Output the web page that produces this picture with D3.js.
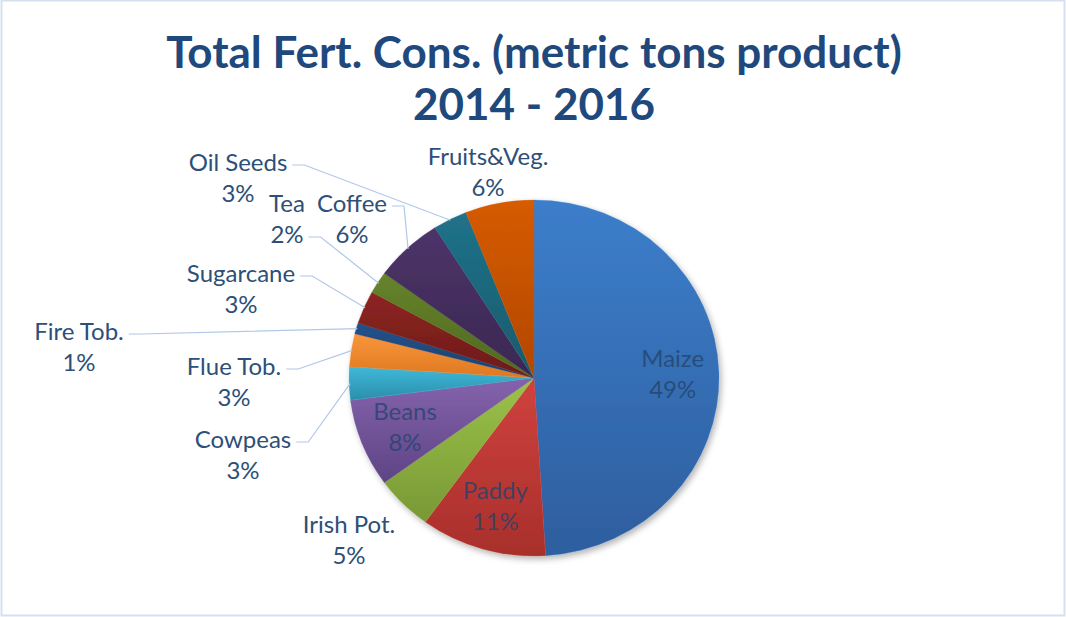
<!DOCTYPE html>
<html>
<head>
<meta charset="utf-8">
<script src="https://cdn.jsdelivr.net/npm/d3@7"></script>
<style>
  body { margin: 0; background: #fff; }
  #piechart { width: 1066px; height: 617px; }
</style>
</head>
<body>
<div id="piechart"></div>
<script>
// === Data ===
const categories = ["Maize", "Paddy", "Irish Pot.", "Beans", "Cowpeas", "Flue Tob.",
  "Fire Tob.", "Sugarcane", "Tea", "Coffee", "Oil Seeds", "Fruits&Veg."];
const shares = [49, 11, 5, 8, 3, 3, 1, 3, 2, 6, 3, 6];
const colorTop = ["#3c7ecb", "#d0423e", "#9cc24a", "#8463ac", "#40b8d9", "#f9963b",
  "#23528a", "#8e2522", "#66842b", "#4d3469", "#20728a", "#d65b00"];
const colorBottom = ["#2e5e9e", "#a82f2b", "#789835", "#5e4485", "#2a8eab", "#de7820",
  "#1c416f", "#6c1a18", "#4e6720", "#3a2751", "#185a6c", "#b24700"];
const titleLines = ["Total Fert. Cons. (metric tons product)", "2014 - 2016"];

// label layout for labels outside the pie (text centre, first baseline, leader line row)
const outsideLabels = {
  "Irish Pot.": { x: 349, y: 533, leader: null },
  "Cowpeas": { x: 243, y: 448, leader: 0 },
  "Flue Tob.": { x: 234, y: 375, leader: 0 },
  "Fire Tob.": { x: 79, y: 340, leader: 0 },
  "Sugarcane": { x: 241, y: 282, leader: 0 },
  "Tea": { x: 287, y: 212, leader: 1 },
  "Coffee": { x: 352, y: 212, leader: 0 },
  "Oil Seeds": { x: 238, y: 171, leader: 0 },
  "Fruits&Veg.": { x: 488, y: 165, leader: null }
};

const W = 1066, H = 617;
const cx = 534, cy = 378, radius = 178, stretchX = 185 / 178;
const textColor = "#2d4f78";

const svg = d3.select("#piechart")
  .append("svg")
  .attr("width", W)
  .attr("height", H)
  .style("font-family", "Lato, 'Open Sans', sans-serif");

const defs = svg.append("defs");

// chart area border
svg.append("rect")
  .attr("x", 1.5).attr("y", 0.5)
  .attr("width", W - 3).attr("height", H - 2)
  .attr("fill", "#fff")
  .attr("stroke", "#d6e1f0")
  .attr("stroke-width", 2);

// === Title ===
svg.append("g")
  .selectAll("text")
  .data(titleLines)
  .join("text")
  .attr("x", 534)
  .attr("y", (d, i) => 68 + i * 52)
  .attr("text-anchor", "middle")
  .style("font-size", "44px")
  .style("font-weight", "bold")
  .style("fill", "#1f497d")
  .text((d) => d);

// === Pie ===
const data = categories.map((c, i) => ({ name: c, value: shares[i], i }));
const pie = d3.pie().value((d) => d.value).sort(null);
const arcs = pie(data);
const arc = d3.arc().innerRadius(0).outerRadius(radius);

arcs.forEach((a, i) => {
  const grad = defs.append("linearGradient")
    .attr("id", "g" + i)
    .attr("x1", 0).attr("y1", 0).attr("x2", 0).attr("y2", 1);
  grad.append("stop").attr("offset", "0%").attr("stop-color", colorTop[i]);
  grad.append("stop").attr("offset", "100%").attr("stop-color", colorBottom[i]);
});

const shadow = defs.append("filter").attr("id", "shadow")
  .attr("x", "-10%").attr("y", "-10%").attr("width", "120%").attr("height", "120%");
shadow.append("feDropShadow")
  .attr("dx", 2).attr("dy", 3).attr("stdDeviation", 3)
  .attr("flood-color", "#000").attr("flood-opacity", 0.3);

const pieG = svg.append("g")
  .attr("transform", `translate(${cx},${cy}) scale(${stretchX},1)`)
  .attr("filter", "url(#shadow)");

pieG.selectAll("path")
  .data(arcs)
  .join("path")
  .attr("d", arc)
  .attr("fill", (d, i) => `url(#g${i})`)
  .attr("stroke", (d, i) => colorTop[i])
  .attr("stroke-width", 0.3);

// point on the pie in page coordinates
function piePoint(angle, r) {
  return [cx + stretchX * r * Math.sin(angle), cy - r * Math.cos(angle)];
}

// === Labels ===
const labelG = svg.append("g");
const lineGap = 31;

arcs.forEach((a) => {
  const name = a.data.name;
  const lines = [name, a.data.value + "%"];
  const spot = outsideLabels[name];
  if (!spot) {
    // inside labels
    const mid = (a.startAngle + a.endAngle) / 2;
    const [px, py] = piePoint(mid, radius * 0.75);
    labelG.selectAll(null)
      .data(lines)
      .join("text")
      .attr("x", px)
      .attr("y", (d, j) => py - 7 + j * lineGap)
      .attr("text-anchor", "middle")
      .style("font-size", "24px")
      .style("fill", "#24446c")
      .style("fill-opacity", 0.8)
      .text((d) => d);
    return;
  }
  const texts = labelG.selectAll(null)
    .data(lines)
    .join("text")
    .attr("x", spot.x)
    .attr("y", (d, j) => spot.y + j * lineGap)
    .attr("text-anchor", "middle")
    .style("font-size", "24px")
    .style("fill", textColor)
    .text((d) => d);

  if (spot.leader !== null) {
    const node = texts.nodes()[spot.leader];
    const w = node.getComputedTextLength();
    const sx = spot.x + w / 2 + 5;
    const sy = spot.y + spot.leader * lineGap - 6;
    const mid = (a.startAngle + a.endAngle) / 2;
    const [ex, ey] = piePoint(mid, radius - 1);
    labelG.append("polyline")
      .attr("points", `${sx},${sy} ${sx + 12},${sy} ${ex},${ey}`)
      .attr("fill", "none")
      .attr("stroke", "#b0c8e8")
      .attr("stroke-width", 1.2);
  }
});
</script>
</body>
</html>
